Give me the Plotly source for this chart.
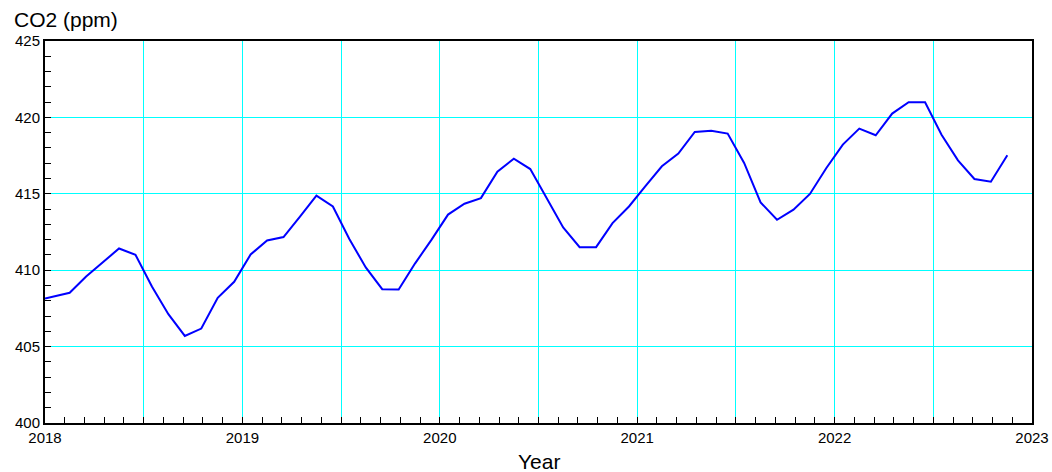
import plotly.graph_objects as go

# Monthly CO2 values (ppm), Jan 2018 .. Nov 2022
years = [2018] * 12 + [2019] * 12 + [2020] * 12 + [2021] * 12 + [2022] * 11
months = list(range(1, 13)) * 4 + list(range(1, 12))
co2_ppm = [
    408.15, 408.52, 409.59, 410.50, 411.42, 411.01, 408.93, 407.12, 405.70, 406.18, 408.19, 409.24,
    411.03, 411.95, 412.17, 413.50, 414.88, 414.17, 412.04, 410.18, 408.76, 408.74, 410.45, 412.00,
    413.64, 414.35, 414.72, 416.45, 417.30, 416.62, 414.72, 412.80, 411.51, 411.51, 413.08, 414.17,
    415.50, 416.80, 417.63, 419.05, 419.13, 418.94, 417.02, 414.44, 413.30, 413.96, 414.99, 416.69,
    418.22, 419.27, 418.83, 420.25, 420.99, 420.99, 418.87, 417.19, 415.97, 415.79, 417.52,
]
# decimal dates (mid-month; the first sample sits at the start of the record)
decimal_dates = [y + (m - 0.5) / 12 for y, m in zip(years, months)]
decimal_dates[0] = 2018.0

x_tick_vals = [2018, 2018.5, 2019, 2019.5, 2020, 2020.5, 2021, 2021.5, 2022, 2022.5, 2023]
x_tick_text = ["2018", "", "2019", "", "2020", "", "2021", "", "2022", "", "2023"]
y_tick_vals = [400, 405, 410, 415, 420, 425]

font_family = "Liberation Sans, Arial, sans-serif"

fig = go.Figure()
fig.add_trace(go.Scatter(
    x=decimal_dates, y=co2_ppm, mode="lines",
    line=dict(color="#0000ff", width=2),
    showlegend=False, hoverinfo="x+y",
))

fig.update_layout(
    width=1052, height=472,
    margin=dict(l=45, r=20, t=41, b=49, autoexpand=False),
    paper_bgcolor="white", plot_bgcolor="white",
    font=dict(family=font_family, color="black", size=15),
    xaxis=dict(
        range=[2018, 2023], automargin=False,
        tickmode="array", tickvals=x_tick_vals, ticktext=x_tick_text,
        showgrid=True, gridcolor="#00ffff", gridwidth=1,
        showline=True, linecolor="black", linewidth=2, mirror=True,
        ticks="inside", ticklen=6, tickcolor="black", tickwidth=1,
        minor=dict(dtick=0.1, tick0=2018, ticks="inside", ticklen=6,
                   tickcolor="black", tickwidth=1, showgrid=False),
        zeroline=False,
        tickfont=dict(size=15, family=font_family),
    ),
    yaxis=dict(
        range=[400, 425], automargin=False,
        tickmode="array", tickvals=y_tick_vals,
        showgrid=True, gridcolor="#00ffff", gridwidth=1,
        showline=True, linecolor="black", linewidth=2, mirror=True,
        ticks="inside", ticklen=6, tickcolor="black", tickwidth=1,
        minor=dict(dtick=1, tick0=400, ticks="inside", ticklen=6,
                   tickcolor="black", tickwidth=1, showgrid=False),
        zeroline=False,
        tickfont=dict(size=15, family=font_family),
    ),
    annotations=[
        dict(text="CO2 (ppm)", xref="paper", yref="paper",
             x=-0.0334, y=1.056, xanchor="left", yanchor="middle",
             showarrow=False, font=dict(size=21, family=font_family)),
        dict(text="Year", xref="paper", yref="paper",
             x=0.5, y=-0.1, xanchor="center", yanchor="middle",
             showarrow=False, font=dict(size=21, family=font_family)),
    ],
)

fig.write_html("out.html")
